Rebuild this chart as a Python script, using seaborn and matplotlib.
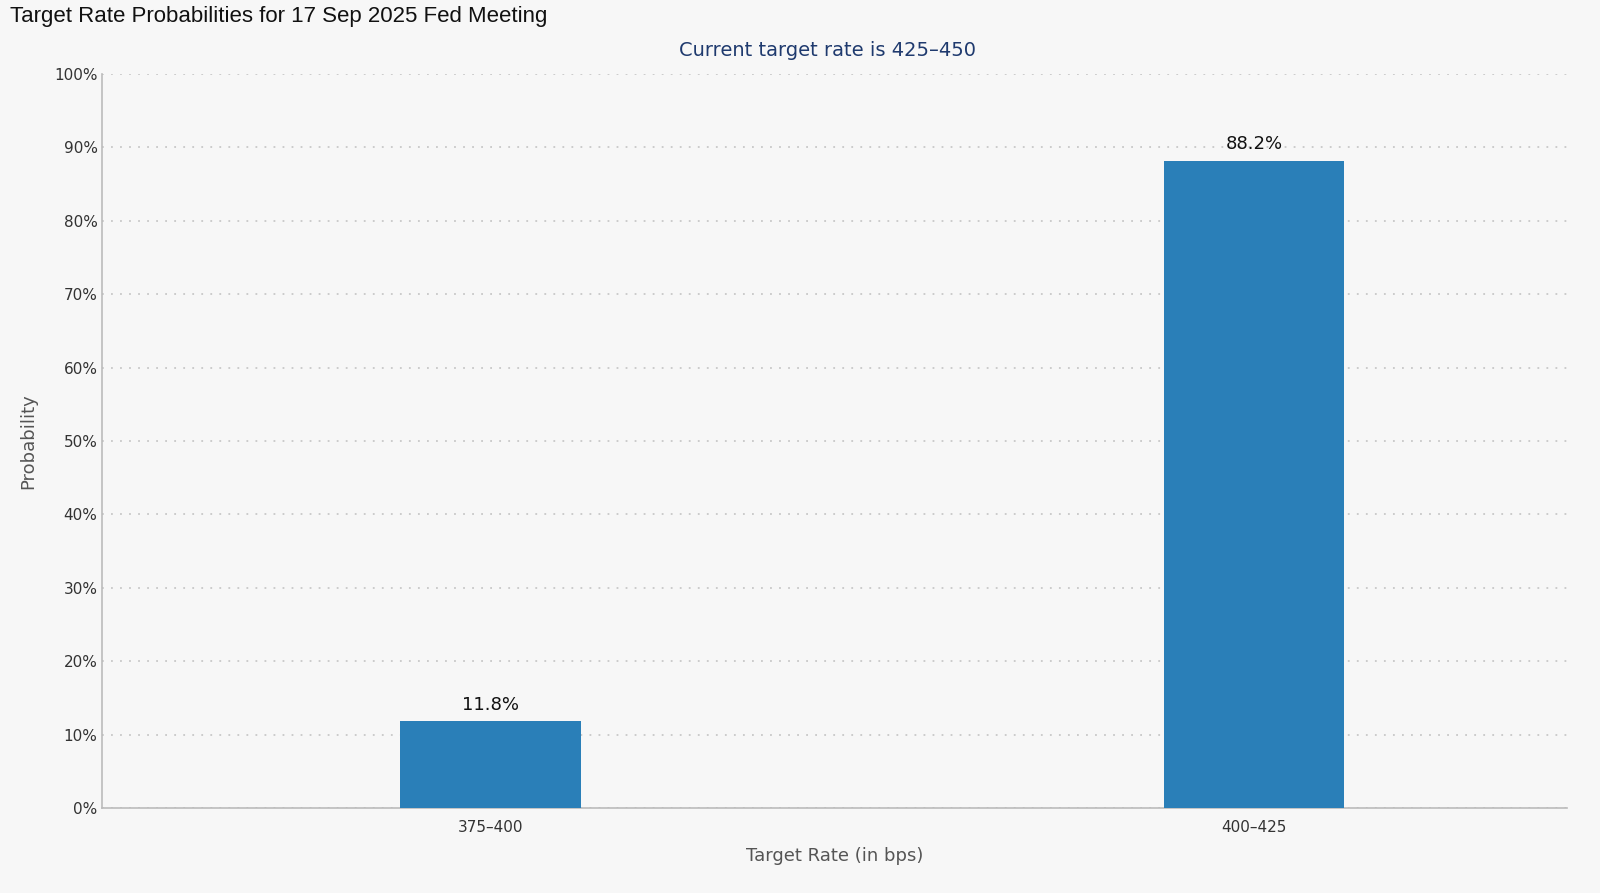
import matplotlib
matplotlib.use("Agg")
import matplotlib.pyplot as plt
import seaborn as sns
import pandas as pd
from matplotlib.ticker import FuncFormatter

rates = ["375-400", "400-425"]
probs = [11.8, 88.2]
tick_labels = ["375–400", "400–425"]

df = pd.DataFrame({"rate": rates, "prob": probs})

bg = "#f7f7f7"
fig = plt.figure(figsize=(16, 8.93), dpi=100, facecolor=bg)
ax = fig.add_axes([0.064, 0.0952, 0.9156, 0.822], facecolor=bg)

sns.barplot(data=df, x="rate", y="prob", color="#2a7fb8", saturation=1,
            width=0.236, ax=ax, zorder=3)

for i, p in enumerate(probs):
    ax.text(i, p + 1.0, f"{p}%", ha="center", va="bottom", fontsize=13,
            color="#111111", family="DejaVu Sans")

ax.set_xlim(-0.508, 1.41)
ax.set_ylim(0, 100)
ax.set_yticks(range(0, 101, 10))
ax.yaxis.set_major_formatter(FuncFormatter(lambda v, _: f"{int(v)}%"))
ax.set_xticks([0, 1])
ax.set_xticklabels(tick_labels)
ax.tick_params(axis="both", labelsize=11, colors="#333333", length=0)
ax.tick_params(axis="x", pad=9)
ax.grid(axis="y", linestyle=(0, (1, 4)), color="#c8c8c8", linewidth=1.3, zorder=0)
for s in ["top", "right"]:
    ax.spines[s].set_visible(False)
for s in ["left", "bottom"]:
    ax.spines[s].set_color("#bbbbbb")
    ax.spines[s].set_linewidth(1.2)

ax.set_xlabel("Target Rate (in bps)", fontsize=13, color="#555555", labelpad=8)
ax.set_ylabel("Probability", fontsize=13, color="#555555", labelpad=12)

fig.text(0.006, 0.982, "Target Rate Probabilities for 17 Sep 2025 Fed Meeting",
         fontsize=16, family="Liberation Sans", color="#111111", va="center", ha="left")
fig.text(0.5175, 0.943, "Current target rate is 425–450", fontsize=14,
         color="#1f3a6e", ha="center", va="center")

fig.savefig("out.png", dpi=100, facecolor=bg)
